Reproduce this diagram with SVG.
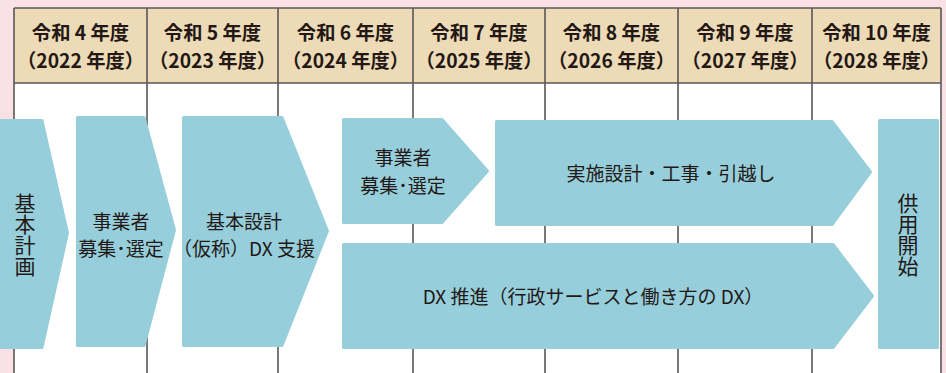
<svg xmlns="http://www.w3.org/2000/svg" width="946" height="373" viewBox="0 0 946 373">
<style>
.hd{font-family:"Noto Sans CJK JP","Noto Sans",sans-serif;font-weight:bold;font-size:19.3px;fill:#231815;text-anchor:middle}
.tx{font-family:"Noto Sans CJK JP","Noto Sans",sans-serif;font-size:19px;fill:#231815;text-anchor:middle}
.vt{font-family:"Noto Sans CJK JP","Noto Sans",sans-serif;font-size:21px;fill:#231815;text-anchor:middle;writing-mode:vertical-rl}
.sh{fill:#96cfdb;stroke:#96cfdb;stroke-width:3;stroke-linejoin:round}
.ln{stroke:#595757;stroke-width:1.6;fill:none}
</style>
<rect x="0" y="0" width="946" height="373" fill="#f9e1e5"/>
<g id="table">
<rect x="14" y="8" width="927" height="370" fill="#ffffff"/>
<rect x="14" y="8" width="927" height="75" fill="#ecdbb6"/>
<path class="ln" d="M14 8H941M14 83H941M14 8V373M147 8V373M278 8V373M413 8V373M545 8V373M678 8V373M812 8V373M941 8V373"/>
</g>
<g id="headers">
<text class="hd" x="80.5" y="40">令和 4 年度</text><text class="hd" x="80.5" y="68">（2022 年度）</text>
<text class="hd" x="212.5" y="40">令和 5 年度</text><text class="hd" x="212.5" y="68">（2023 年度）</text>
<text class="hd" x="345.5" y="40">令和 6 年度</text><text class="hd" x="345.5" y="68">（2024 年度）</text>
<text class="hd" x="479" y="40">令和 7 年度</text><text class="hd" x="479" y="68">（2025 年度）</text>
<text class="hd" x="611.5" y="40">令和 8 年度</text><text class="hd" x="611.5" y="68">（2026 年度）</text>
<text class="hd" x="745" y="40">令和 9 年度</text><text class="hd" x="745" y="68">（2027 年度）</text>
<text class="hd" x="876.5" y="40">令和 10 年度</text><text class="hd" x="876.5" y="68">（2028 年度）</text>
</g>
<g id="kihon-keikaku">
<path class="sh" d="M-5 120.5H42L67.5 233L42 347.5H-5Z"/>
<text class="vt" x="25" y="235">基本計画</text>
</g>
<g id="boshu1">
<path class="sh" d="M77.5 117.5H144L174.5 230L144 345.5H77.5Z"/>
<text class="tx" x="121" y="229">事業者</text><text class="tx" x="121" y="256">募集･選定</text>
</g>
<g id="kihon-sekkei">
<path class="sh" d="M183.5 117.5H282L327.5 231L282 345.5H183.5Z"/>
<text class="tx" x="244" y="229">基本設計</text><text class="tx" x="244" y="256">（仮称）DX 支援</text>
</g>
<g id="boshu2">
<path class="sh" d="M343.5 119.5H442L487.5 171L442 222.5H343.5Z"/>
<text class="tx" x="403" y="165">事業者</text><text class="tx" x="403" y="193">募集･選定</text>
</g>
<g id="jisshi">
<path class="sh" d="M496.5 121.5H832L870.5 172L832 224.5H496.5Z"/>
<text class="tx" x="671" y="181">実施設計・工事・引越し</text>
</g>
<g id="dx">
<path class="sh" d="M343.5 244.5H833L872.5 296L833 347.5H343.5Z"/>
<text class="tx" x="593" y="304">DX 推進（行政サービスと働き方の DX）</text>
</g>
<g id="kyoyo">
<path class="sh" d="M879.5 120.5H937.5V347.5H879.5Z"/>
<text class="vt" x="908" y="235">供用開始</text>
</g>
</svg>
